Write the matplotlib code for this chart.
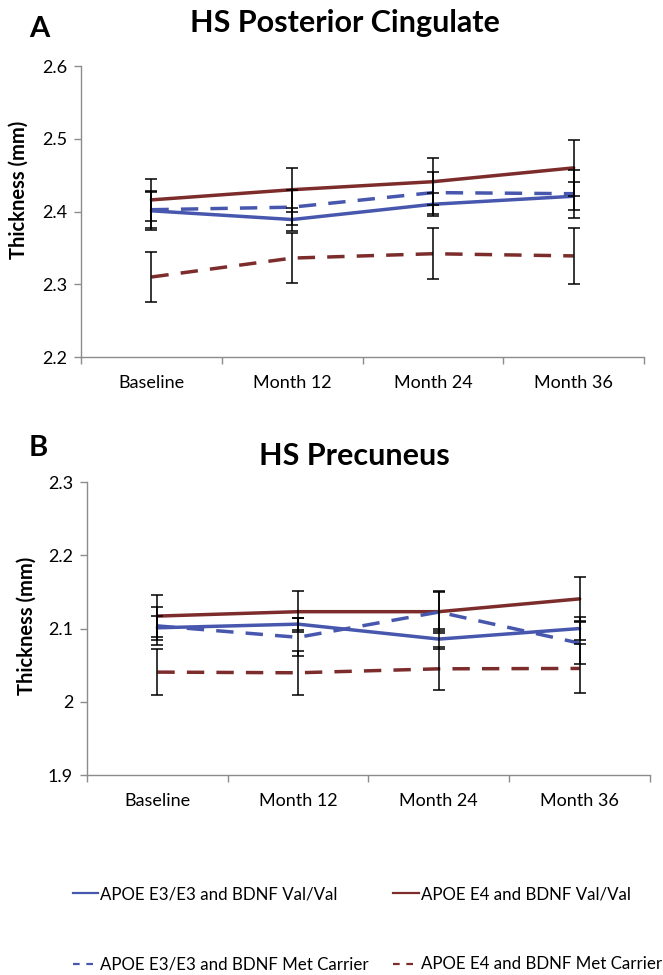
import matplotlib
matplotlib.use("Agg")
import matplotlib.pyplot as plt
from matplotlib.lines import Line2D

plt.rcParams['font.family'] = ['Lato', 'DejaVu Sans']

months = ['Baseline', 'Month 12', 'Month 24', 'Month 36']

# panel A - posterior cingulate
pc_e3_val = [2.401, 2.389, 2.410, 2.421]
pc_e3_val_err = [0.027, 0.016, 0.016, 0.019]
pc_e3_met = [2.4025, 2.406, 2.426, 2.4245]
pc_e3_met_err = [0.025, 0.024, 0.029, 0.033]
pc_e4_val = [2.416, 2.430, 2.441, 2.460]
pc_e4_val_err = [0.029, 0.030, 0.032, 0.038]
pc_e4_met = [2.310, 2.336, 2.342, 2.339]
pc_e4_met_err = [0.034, 0.034, 0.035, 0.039]

# panel B - precuneus
pr_e3_val = [2.101, 2.106, 2.0856, 2.100]
pr_e3_val_err = [0.016, 0.008, 0.014, 0.016]
pr_e3_met = [2.1036, 2.088, 2.1225, 2.080]
pr_e3_met_err = [0.026, 0.026, 0.029, 0.029]
pr_e4_val = [2.117, 2.123, 2.123, 2.1405]
pr_e4_val_err = [0.029, 0.028, 0.027, 0.030]
pr_e4_met = [2.0405, 2.0396, 2.045, 2.0455]
pr_e4_met_err = [0.031, 0.030, 0.0295, 0.033]

labels = ['APOE E3/E3 and BDNF Val/Val', 'APOE E4 and BDNF Val/Val',
          'APOE E3/E3 and BDNF Met Carrier', 'APOE E4 and BDNF Met Carrier']

blue = '#4857ae'
red = '#7d2c2c'
axcol = '#8c8c8c'
dash = (5, 3.5)

fig = plt.figure(figsize=(6.63, 9.75), dpi=100)
axA = fig.add_axes([0.1222, 0.6338, 0.8492, 0.2985])
axB = fig.add_axes([0.1312, 0.2051, 0.8492, 0.3005])


def panel(ax, series, ylim, yticks, yfmt):
    x = range(len(months))
    for vals, errs, col, ls in series:
        kw = dict(color=col, lw=2.5, solid_capstyle='round')
        if ls == 'dash':
            ax.plot(x, vals, dashes=dash, **kw, zorder=2)
        else:
            ax.plot(x, vals, **kw, zorder=2)
        ax.errorbar(x, vals, yerr=errs, fmt='none', ecolor='black',
                    elinewidth=1.1, capsize=4, capthick=1.1, zorder=3)
    ax.set_xlim(-0.5, 3.5)
    ax.set_ylim(*ylim)
    ax.set_yticks(yticks)
    ax.set_yticklabels([yfmt(v) for v in yticks])
    ax.set_xticks(list(x))
    ax.set_xticklabels(months)
    ax.set_xticks([-0.5, 0.5, 1.5, 2.5, 3.5], minor=True)
    ax.tick_params(axis='x', which='major', length=0, pad=13, labelsize=13)
    ax.tick_params(axis='x', which='minor', length=5, width=1, color=axcol, direction='out')
    ax.tick_params(axis='y', length=5, width=1, color=axcol, pad=5, labelsize=13)
    for s in ['top', 'right']:
        ax.spines[s].set_visible(False)
    for s in ['left', 'bottom']:
        ax.spines[s].set_color(axcol)
        ax.spines[s].set_linewidth(1)


panel(axA, [(pc_e3_val, pc_e3_val_err, blue, 'solid'),
            (pc_e4_val, pc_e4_val_err, red, 'solid'),
            (pc_e3_met, pc_e3_met_err, blue, 'dash'),
            (pc_e4_met, pc_e4_met_err, red, 'dash')],
      (2.2, 2.6), [2.2, 2.3, 2.4, 2.5, 2.6], lambda v: f'{v:.1f}')

panel(axB, [(pr_e3_val, pr_e3_val_err, blue, 'solid'),
            (pr_e4_val, pr_e4_val_err, red, 'solid'),
            (pr_e3_met, pr_e3_met_err, blue, 'dash'),
            (pr_e4_met, pr_e4_met_err, red, 'dash')],
      (1.9, 2.3), [1.9, 2.0, 2.1, 2.2, 2.3],
      lambda v: f'{v:g}')

fig.text(0.5204, 0.9764, 'HS Posterior Cingulate', ha='center', va='center',
         fontsize=22, fontweight='bold')
fig.text(0.059, 0.9703, 'A', ha='center', va='center', fontsize=21, fontweight='bold')
fig.text(0.534, 0.5323, 'HS Precuneus', ha='center', va='center',
         fontsize=22, fontweight='bold')
fig.text(0.057, 0.5405, 'B', ha='center', va='center', fontsize=21, fontweight='bold')

fig.text(0.0287, 0.8051, 'Thickness (mm)', rotation=90, ha='center', va='center',
         fontsize=14.5, fontweight='bold')
fig.text(0.0407, 0.358, 'Thickness (mm)', rotation=90, ha='center', va='center',
         fontsize=14.5, fontweight='bold')

solid_h = lambda c: Line2D([], [], color=c, lw=1.6)
dash_h = lambda c: Line2D([], [], color=c, lw=1.6, dashes=(3, 3))
leg_kw = dict(loc='upper left', frameon=False, fontsize=12.2,
              handlelength=1.5, handletextpad=0.12, labelspacing=3.2,
              borderaxespad=0, borderpad=0)
fig.legend([solid_h(blue), dash_h(blue)], [labels[0], labels[2]],
           bbox_to_anchor=(0.110, 0.0910), **leg_kw)
fig.legend([solid_h(red), dash_h(red)], [labels[1], labels[3]],
           bbox_to_anchor=(0.593, 0.0910), **leg_kw)

fig.savefig('out.png', dpi=100)
